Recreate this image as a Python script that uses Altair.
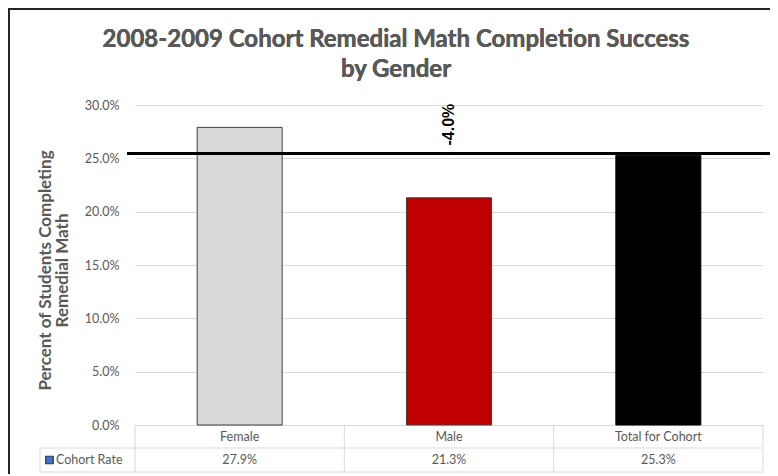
import altair as alt
import pandas as pd

# ---- data ----
categories = ["Female", "Male", "Total for Cohort"]
rates = [27.9, 21.3, 25.3]
rate_labels = ["27.9%", "21.3%", "25.3%"]
bar_colors = ["#d9d9d9", "#c00000", "#000000"]
bar_strokes = ["#404040", "#404040", "#000000"]
y_ticks = [0, 5, 10, 15, 20, 25, 30]
reference_level = [25.45]
difference_category = ["Male"]
difference_text = ["-4.0%"]
series_name = "Cohort Rate"
title_lines = ["2008-2009 Cohort Remedial Math Completion Success", "by Gender"]
y_title_lines = ["Percent of Students Completing", "Remedial Math"]

W, H = 628, 320
GRAY = "#595959"
LINE = "#d9d9d9"
FONT = "Lato"

df = pd.DataFrame({"cat": categories, "rate": rates, "label": rate_labels})
ref_df = pd.DataFrame({"level": reference_level, "cat": difference_category, "t": difference_text})

xscale = alt.Scale(domain=categories, paddingInner=0, paddingOuter=0)
x_enc = alt.X("cat:N", sort=categories, scale=xscale, axis=None)

y_axis = alt.Axis(
    values=y_ticks,
    labelExpr="format(datum.value, '.1f') + '%'",
    grid=True, gridColor=LINE, gridWidth=1,
    domain=False, ticks=False, tickSize=0,
    labelPadding=16, labelFontSize=12.5, labelColor=GRAY, labelFont=FONT,
    title=y_title_lines, titleFont=FONT, titleFontSize=17, titleFontWeight="bold",
    titleColor=GRAY, titleAngle=270, titleX=-85, titleY=165,
    titleBaseline="alphabetic", titleAlign="center", titleLineHeight=17,
)

bars = alt.Chart(df).mark_bar(width=85, strokeWidth=1).encode(
    x=x_enc,
    y=alt.Y("rate:Q", scale=alt.Scale(domain=[0, 30], nice=False), axis=y_axis),
    color=alt.Color("cat:N", scale=alt.Scale(domain=categories, range=bar_colors), legend=None),
    stroke=alt.Stroke("cat:N", scale=alt.Scale(domain=categories, range=bar_strokes), legend=None),
)

ref_line = alt.Chart(ref_df).mark_rule(color="black", strokeWidth=3).encode(
    y="level:Q", x=alt.value(-8), x2=alt.value(W + 9)
)

diff_label = alt.Chart(ref_df).mark_text(
    angle=270, align="left", baseline="middle",
    font="Liberation Sans", fontSize=16, fontWeight="bold", color="black",
).encode(x=x_enc, y="level:Q", yOffset=alt.value(-8), text="t:N")

title = alt.Chart(df).mark_text(
    text=title_lines, font=FONT, fontSize=24, fontWeight="bold", color=GRAY,
    align="center", baseline="middle", lineHeight=30,
).encode(x=alt.value(261), y=alt.value(-65))

# ---- data table under the plot ----
header = alt.Chart(df).mark_text(font=FONT, fontSize=12.5, color=GRAY, baseline="middle").encode(
    x=x_enc, y=alt.value(H + 12), text="cat:N"
)
values_row = alt.Chart(df).mark_text(font=FONT, fontSize=12.5, color=GRAY, baseline="middle").encode(
    x=x_enc, y=alt.value(H + 35), text="label:N"
)
vlines = alt.Chart(df).mark_rule(color=LINE, strokeWidth=1).encode(
    x=alt.X("cat:N", sort=categories, scale=xscale, axis=None, bandPosition=0),
    y=alt.value(H), y2=alt.value(H + 47),
)
right_edge = alt.Chart(df.head(1)).mark_rule(color=LINE, strokeWidth=1).encode(
    x=alt.value(W), y=alt.value(H), y2=alt.value(H + 47)
)
legend_edge = alt.Chart(df.head(1)).mark_rule(color=LINE, strokeWidth=1).encode(
    x=alt.value(-95), y=alt.value(H + 23), y2=alt.value(H + 47)
)
hline1 = alt.Chart(df.head(1)).mark_rule(color=LINE, strokeWidth=1).encode(
    x=alt.value(-95), x2=alt.value(W), y=alt.value(H + 23)
)
hline2 = alt.Chart(df.head(1)).mark_rule(color=LINE, strokeWidth=1).encode(
    x=alt.value(-95), x2=alt.value(W), y=alt.value(H + 47)
)
legend_sq = alt.Chart(df.head(1)).mark_square(
    size=56, fill="#4472c4", stroke="#1f3864", strokeWidth=1.2, opacity=1
).encode(x=alt.value(-85.5), y=alt.value(H + 35))
legend_txt = alt.Chart(df.head(1)).mark_text(
    text=series_name, font=FONT, fontSize=12.5, color=GRAY, align="left", baseline="middle"
).encode(x=alt.value(-79), y=alt.value(H + 35))

# ---- outer frame ----
frame_left = alt.Chart(df.head(1)).mark_rule(color="#262626", strokeWidth=2).encode(
    x=alt.value(-126), y=alt.value(-97), y2=alt.value(H + 60)
)
frame_top = alt.Chart(df.head(1)).mark_rule(color="#262626", strokeWidth=2).encode(
    x=alt.value(-127), x2=alt.value(W + 20), y=alt.value(-96)
)

chart = alt.layer(
    bars, ref_line, diff_label, title,
    header, values_row, vlines, right_edge, legend_edge, hline1, hline2,
    legend_sq, legend_txt, frame_left, frame_top,
).properties(
    width=W, height=H,
    autosize=alt.AutoSizeParams(type="none"),
    padding={"left": 127, "top": 97, "right": 7, "bottom": 49},
    background="white",
).configure_view(strokeWidth=0)

chart.save("out.html", embed_options={"renderer": "svg", "actions": False})
